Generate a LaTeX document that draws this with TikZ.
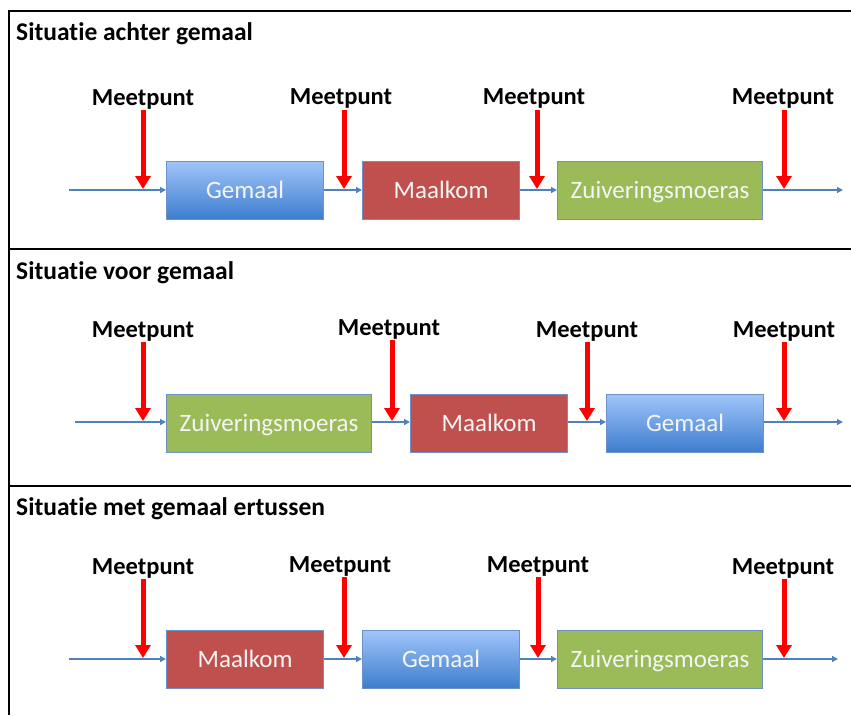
\documentclass[tikz,border=0pt]{standalone}
\usepackage{fontspec}
\setmainfont{Carlito}[Ligatures=NoCommon]
\usetikzlibrary{arrows.meta}
\definecolor{flowblue}{RGB}{79,129,189}
\definecolor{boxedge}{RGB}{110,145,200}
\definecolor{gemtop}{RGB}{160,196,250}
\definecolor{gembot}{RGB}{60,125,205}
\definecolor{maalred}{RGB}{192,80,77}
\definecolor{zuivgreen}{RGB}{155,187,89}
\definecolor{boxtext}{RGB}{245,245,245}
\tikzset{
  frameline/.style={line width=2pt,black},
  proc/.style={draw=boxedge,line width=1.2pt,inner sep=0pt,minimum height=58pt,
    text height=16pt,text depth=0pt,
    text=boxtext,font=\fontsize{25}{25}\selectfont},
  gembox/.style={proc,top color=gemtop,bottom color=gembot,minimum width=157pt},
  maalbox/.style={proc,fill=maalred,minimum width=157pt},
  zuivbox/.style={proc,fill=zuivgreen,minimum width=205pt},
  flow/.style={draw=flowblue,line width=2.5pt,-{Triangle[length=6pt,width=6pt]}},
  meet/.style={draw=red,line width=5pt,-{Triangle[length=13pt,width=15pt]}},
  meetlabel/.style={inner sep=0pt,font=\bfseries\fontsize{24.5}{25}\selectfont},
  paneltitle/.style={anchor=west,inner sep=0pt,font=\bfseries\fontsize{25.5}{26}\selectfont}
}
\begin{document}
\begin{tikzpicture}[x=1pt,y=-1pt]
\useasboundingbox (0,0) rectangle (851,715);
% frame
\draw[frameline] (9,715) -- (9,11) -- (851,11);
\draw[frameline] (9,249) -- (851,249);
\draw[frameline] (9,486) -- (851,486);

% ---------- Panel 1 ----------
\node[paneltitle] (t1) at (16,34) {Situatie achter gemaal};
\node[gembox,anchor=north west] (a1) at (166,161) {Gemaal};
\node[maalbox,anchor=north west] (a2) at (362,161) {Maalkom};
\node[zuivbox,anchor=north west] (a3) at (557,161) {Zuiveringsmoeras};
\coordinate (as) at (69,190);
\coordinate (ae) at (843,190);
\draw[flow] (as) -- (a1.west |- as);
\draw[flow] (a1.east |- as) -- (a2.west |- as);
\draw[flow] (a2.east |- as) -- (a3.west |- as);
\draw[flow] (a3.east |- as) -- (ae);
\node[meetlabel] (am1) at (143,99) {Meetpunt};
\node[meetlabel] (am2) at (341,98) {Meetpunt};
\node[meetlabel] (am3) at (534,98) {Meetpunt};
\node[meetlabel] (am4) at (783,98) {Meetpunt};
\coordinate (ap1) at (143,110); \coordinate (aq1) at (143,189);
\coordinate (ap2) at (344,110); \coordinate (aq2) at (344,189);
\coordinate (ap3) at (537,110); \coordinate (aq3) at (537,189);
\coordinate (ap4) at (784,110); \coordinate (aq4) at (784,189);
\foreach \i in {1,2,3,4} {\draw[meet] (ap\i) -- (aq\i);}

% ---------- Panel 2 ----------
\node[paneltitle] (t2) at (16,273) {Situatie voor gemaal};
\node[zuivbox,anchor=north west] (b1) at (166,394) {Zuiveringsmoeras};
\node[maalbox,anchor=north west] (b2) at (410,394) {Maalkom};
\node[gembox,anchor=north west] (b3) at (606,394) {Gemaal};
\coordinate (bs) at (75,422);
\coordinate (be) at (843,422);
\draw[flow] (bs) -- (b1.west |- bs);
\draw[flow] (b1.east |- bs) -- (b2.west |- bs);
\draw[flow] (b2.east |- bs) -- (b3.west |- bs);
\draw[flow] (b3.east |- bs) -- (be);
\node[meetlabel] (bm1) at (143,331) {Meetpunt};
\node[meetlabel] (bm2) at (389,329) {Meetpunt};
\node[meetlabel] (bm3) at (587,331) {Meetpunt};
\node[meetlabel] (bm4) at (784,331) {Meetpunt};
\coordinate (bp1) at (143,342); \coordinate (bq1) at (143,421);
\coordinate (bp2) at (392,340); \coordinate (bq2) at (392,421);
\coordinate (bp3) at (587,342); \coordinate (bq3) at (587,421);
\coordinate (bp4) at (784,342); \coordinate (bq4) at (784,421);
\foreach \i in {1,2,3,4} {\draw[meet] (bp\i) -- (bq\i);}

% ---------- Panel 3 ----------
\node[paneltitle] (t3) at (16,509) {Situatie met gemaal ertussen};
\node[maalbox,anchor=north west] (c1) at (166,630) {Maalkom};
\node[gembox,anchor=north west] (c2) at (362,630) {Gemaal};
\node[zuivbox,anchor=north west] (c3) at (557,630) {Zuiveringsmoeras};
\coordinate (cs) at (69,659);
\coordinate (ce) at (838,659);
\draw[flow] (cs) -- (c1.west |- cs);
\draw[flow] (c1.east |- cs) -- (c2.west |- cs);
\draw[flow] (c2.east |- cs) -- (c3.west |- cs);
\draw[flow] (c3.east |- cs) -- (ce);
\node[meetlabel] (cm1) at (143,568) {Meetpunt};
\node[meetlabel] (cm2) at (340,566) {Meetpunt};
\node[meetlabel] (cm3) at (538,566) {Meetpunt};
\node[meetlabel] (cm4) at (783,568) {Meetpunt};
\coordinate (cp1) at (143,579); \coordinate (cq1) at (143,658);
\coordinate (cp2) at (344,577); \coordinate (cq2) at (344,658);
\coordinate (cp3) at (538,577); \coordinate (cq3) at (538,658);
\coordinate (cp4) at (784,579); \coordinate (cq4) at (784,658);
\foreach \i in {1,2,3,4} {\draw[meet] (cp\i) -- (cq\i);}
\end{tikzpicture}
\end{document}
